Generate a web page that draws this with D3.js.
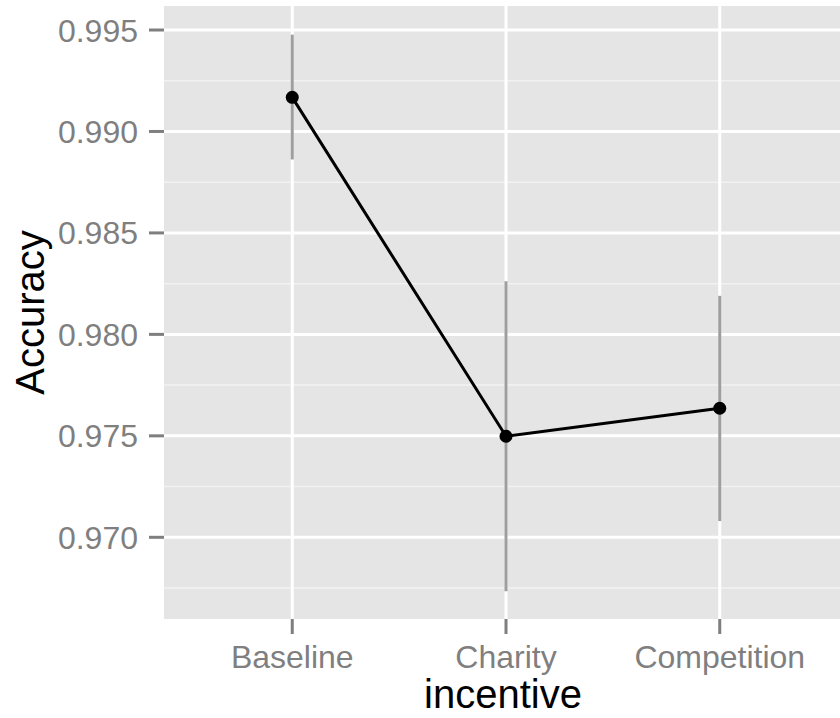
<!DOCTYPE html>
<html>
<head>
<meta charset="utf-8">
<script src="https://cdn.jsdelivr.net/npm/d3@7"></script>
<style>
  body { margin: 0; background: #fff; }
  svg { display: block; font-family: "Liberation Sans", Arial, sans-serif; }
</style>
</head>
<body>
<div id="chart"></div>
<script>
// data
var incentive = ["Baseline", "Charity", "Competition"];
var accuracy  = [0.99168, 0.97498, 0.97636];
var lower     = [0.98862, 0.96734, 0.97080];
var upper     = [0.99477, 0.98262, 0.98190];
var yTicks    = [0.970, 0.975, 0.980, 0.985, 0.990, 0.995];
var yMinor    = [0.9675, 0.9725, 0.9775, 0.9825, 0.9875, 0.9925];

var W = 840, H = 718;
var panel = {left: 164, top: 6, right: 848, bottom: 619};

var svg = d3.select("#chart").append("svg")
    .attr("width", W)
    .attr("height", H);

var x = d3.scalePoint()
    .domain(incentive)
    .range([panel.left, panel.right])
    .padding(0.6);

var y = d3.scaleLinear()
    .domain([0.965974, 0.996183])
    .range([panel.bottom, panel.top]);

// grey panel
svg.append("rect")
    .attr("x", panel.left)
    .attr("y", panel.top)
    .attr("width", panel.right - panel.left)
    .attr("height", panel.bottom - panel.top)
    .attr("fill", "#E5E5E5");

// minor grid
svg.selectAll(".minor").data(yMinor).enter().append("line")
    .attr("x1", panel.left).attr("x2", panel.right)
    .attr("y1", function(d) { return y(d); })
    .attr("y2", function(d) { return y(d); })
    .attr("stroke", "#F2F2F2")
    .attr("stroke-width", 1.5);

// major grid
svg.selectAll(".hmajor").data(yTicks).enter().append("line")
    .attr("x1", panel.left).attr("x2", panel.right)
    .attr("y1", function(d) { return y(d); })
    .attr("y2", function(d) { return y(d); })
    .attr("stroke", "#FFFFFF")
    .attr("stroke-width", 3);

svg.selectAll(".vmajor").data(incentive).enter().append("line")
    .attr("x1", function(d) { return x(d); })
    .attr("x2", function(d) { return x(d); })
    .attr("y1", panel.top).attr("y2", panel.bottom)
    .attr("stroke", "#FFFFFF")
    .attr("stroke-width", 3);

// error bars
svg.selectAll(".err").data(incentive).enter().append("line")
    .attr("x1", function(d) { return x(d); })
    .attr("x2", function(d) { return x(d); })
    .attr("y1", function(d, i) { return y(lower[i]); })
    .attr("y2", function(d, i) { return y(upper[i]); })
    .attr("stroke", "#9E9E9E")
    .attr("stroke-width", 3);

// line
var line = d3.line()
    .x(function(d, i) { return x(incentive[i]); })
    .y(function(d) { return y(d); });

svg.append("path")
    .datum(accuracy)
    .attr("d", line)
    .attr("fill", "none")
    .attr("stroke", "#000")
    .attr("stroke-width", 3);

// points
svg.selectAll(".pt").data(accuracy).enter().append("circle")
    .attr("cx", function(d, i) { return x(incentive[i]); })
    .attr("cy", function(d) { return y(d); })
    .attr("r", 6.5)
    .attr("fill", "#000");

// y axis ticks + labels
var yAxis = svg.append("g");
yAxis.selectAll("line").data(yTicks).enter().append("line")
    .attr("x1", panel.left - 15).attr("x2", panel.left)
    .attr("y1", function(d) { return y(d); })
    .attr("y2", function(d) { return y(d); })
    .attr("stroke", "#7F7F7F")
    .attr("stroke-width", 3);
yAxis.selectAll("text").data(yTicks).enter().append("text")
    .attr("x", 138)
    .attr("y", function(d) { return y(d); })
    .attr("dy", "0.36em")
    .attr("text-anchor", "end")
    .attr("fill", "#7F7F7F")
    .style("font-size", "32px")
    .text(function(d) { return d3.format(".3f")(d); });

// x axis ticks + labels
var xAxis = svg.append("g");
xAxis.selectAll("line").data(incentive).enter().append("line")
    .attr("x1", function(d) { return x(d); })
    .attr("x2", function(d) { return x(d); })
    .attr("y1", panel.bottom).attr("y2", panel.bottom + 15)
    .attr("stroke", "#7F7F7F")
    .attr("stroke-width", 3);
xAxis.selectAll("text").data(incentive).enter().append("text")
    .attr("x", function(d) { return x(d); })
    .attr("y", 668)
    .attr("text-anchor", "middle")
    .attr("fill", "#7F7F7F")
    .style("font-size", "32px")
    .text(function(d) { return d; });

// axis titles
svg.append("text")
    .attr("x", 503)
    .attr("y", 708)
    .attr("text-anchor", "middle")
    .attr("fill", "#000")
    .style("font-size", "40px")
    .text("incentive");

svg.append("text")
    .attr("transform", "translate(44," + ((panel.top + panel.bottom) / 2) + ") rotate(-90)")
    .attr("text-anchor", "middle")
    .attr("fill", "#000")
    .style("font-size", "40px")
    .text("Accuracy");
</script>
</body>
</html>
